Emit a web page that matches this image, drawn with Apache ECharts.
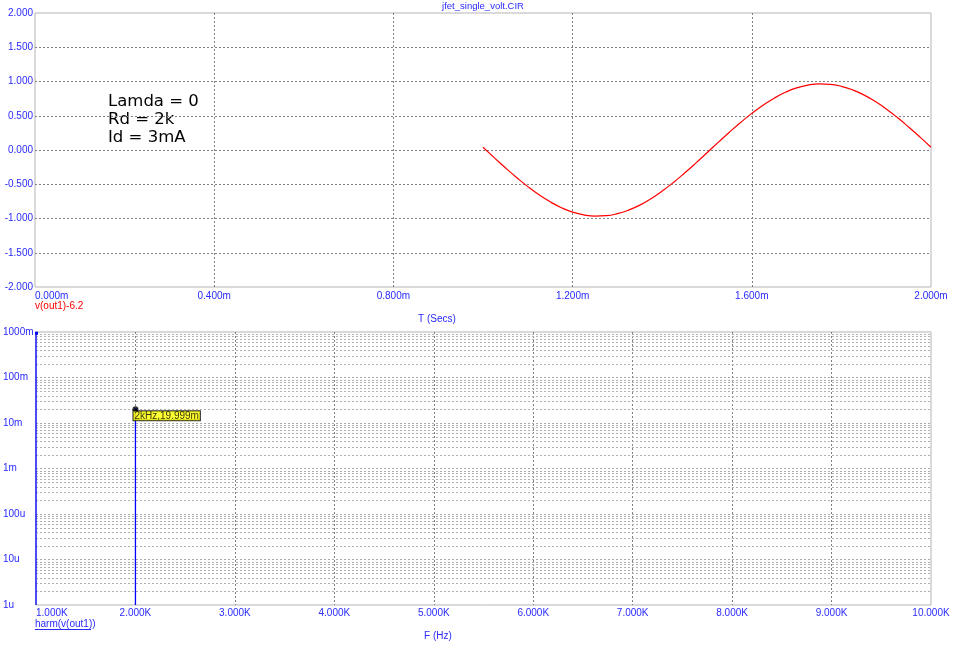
<!DOCTYPE html>
<html>
<head>
<meta charset="utf-8">
<script src="https://cdn.jsdelivr.net/npm/echarts@6/dist/echarts.min.js"></script>
<style>
html,body{margin:0;padding:0;background:#fff;}
#chart{width:957px;height:647px;}
</style>
</head>
<body>
<div id="chart"></div>
<script>
// ---- Data ----
// Transient: time in ms, v(out1)-6.2 in volts
const timeMs = [1.000,1.025,1.050,1.075,1.100,1.125,1.150,1.175,1.200,1.225,1.250,1.275,1.300,1.325,1.350,1.375,1.400,1.425,1.450,1.475,1.500,1.525,1.550,1.575,1.600,1.625,1.650,1.675,1.700,1.725,1.750,1.775,1.800,1.825,1.850,1.875,1.900,1.925,1.950,1.975,2.000];
const vOut = [0.040,-0.111,-0.260,-0.402,-0.535,-0.654,-0.757,-0.842,-0.906,-0.947,-0.965,-0.959,-0.930,-0.878,-0.805,-0.710,-0.599,-0.474,-0.336,-0.191,-0.040,0.111,0.260,0.402,0.535,0.654,0.757,0.842,0.906,0.947,0.965,0.959,0.930,0.878,0.805,0.710,0.599,0.474,0.336,0.191,0.040];
// Harmonics: frequency in Hz, magnitude in volts
const harmFreq = [1000, 2000];
const harmMag = [0.965, 0.019999];
// Cursor annotation
const cursorFreq = 2000;
const cursorMag = 0.019999;
const cursorText = '2kHz,19.999m';
// Tick labels
const logTickLabels = {'-6':'1u','-5':'10u','-4':'100u','-3':'1m','-2':'10m','-1':'100m','0':'1000m'};
const textBlock = ['Lamda = 0', 'Rd = 2k', 'Id = 3mA'];

const BLUE = '#2a2aff';
const FONT = 'Liberation Sans, Arial, sans-serif';

const chart = echarts.init(document.getElementById('chart'), null, {renderer:'canvas'});

// minor log grid values (2..9 x 10^k)
const minorVals = [];
for (let k = -6; k < 0; k++) {
  for (let m = 2; m <= 9; m++) minorVals.push(m * Math.pow(10, k));
}

const option = {
  animation: false,
  backgroundColor: '#ffffff',
  grid: [
    {left:35, top:13, width:896, height:274, show:true, borderColor:'#b4b4b4', borderWidth:1, backgroundColor:'transparent'},
    {left:35, top:332, width:896, height:273, show:true, borderColor:'#b4b4b4', borderWidth:1, backgroundColor:'transparent'}
  ],
  xAxis: [
    {
      gridIndex:0, type:'value', min:0, max:2, interval:0.4,
      axisLine:{show:false}, axisTick:{show:false},
      axisLabel:{color:BLUE, fontFamily:FONT, fontSize:10, margin:4,
        formatter:v=>v.toFixed(3)+'m', alignMinLabel:'left'},
      splitLine:{show:true, showMinLine:false, showMaxLine:false, lineStyle:{color:'#808080', type:[2,2], width:1}}
    },
    {
      gridIndex:1, type:'value', min:1000, max:10000, interval:1000,
      axisLine:{show:false}, axisTick:{show:false},
      axisLabel:{color:BLUE, fontFamily:FONT, fontSize:10, margin:3,
        formatter:v=>(v/1000).toFixed(3)+'K', alignMinLabel:'left'},
      splitLine:{show:true, showMinLine:false, showMaxLine:false, lineStyle:{color:'#808080', type:[2,2], width:1}}
    }
  ],
  yAxis: [
    {
      gridIndex:0, type:'value', min:-2, max:2, interval:0.5,
      axisLine:{show:false}, axisTick:{show:false},
      axisLabel:{color:BLUE, fontFamily:FONT, fontSize:10, margin:2, formatter:v=>v.toFixed(3)},
      splitLine:{show:true, showMinLine:false, showMaxLine:false, lineStyle:{color:'#808080', type:[2,2], width:1}}
    },
    {
      gridIndex:1, type:'log', logBase:10, min:1e-6, max:1,
      axisLine:{show:false}, axisTick:{show:false},
      axisLabel:{color:BLUE, fontFamily:FONT, fontSize:10, margin:33, align:'left',
        formatter:v=>{const e=Math.round(Math.log10(v)); return logTickLabels[String(e)] || '';}},
      splitLine:{show:true, showMinLine:false, showMaxLine:false, lineStyle:{color:'#a8a8a8', type:[2,2], width:1}}
    }
  ],
  series: [
    {
      type:'line', xAxisIndex:0, yAxisIndex:0,
      data: timeMs.map((t,i)=>[t, vOut[i]]),
      showSymbol:false, smooth:true,
      lineStyle:{color:'#ff0000', width:1.2}
    },
    {
      // minor log gridlines for lower plot (2..9 per decade)
      type:'custom', xAxisIndex:1, yAxisIndex:1, silent:true,
      data: minorVals.map(v=>[1000, v]),
      renderItem:(params, api)=>{
        const v = api.value(1);
        const a = api.coord([1000, v]);
        const b = api.coord([10000, v]);
        const y = Math.round(a[1]) + 0.5;
        return {type:'line', shape:{x1:a[0], y1:y, x2:b[0], y2:y},
          style:{stroke:'#b0b0b0', lineWidth:1, lineDash:[2,2]}};
      },
      z:1
    },
    {
      type:'custom', xAxisIndex:1, yAxisIndex:1,
      data: harmFreq.map((f,i)=>[f, harmMag[i]]),
      renderItem:(params, api)=>{
        const f = api.value(0), m = api.value(1);
        const top = api.coord([f, m]);
        const bot = api.coord([f, 1e-6]);
        return {type:'group', children:[
          {type:'line', shape:{x1:top[0], y1:top[1], x2:bot[0], y2:bot[1]}, style:{stroke:'#0000ff', lineWidth:1.3}},
          {type:'rect', shape:{x:top[0]-1, y:top[1]-1, width:3, height:3}, style:{fill:'#0000ff'}}
        ]};
      },
      z:3
    },
    {
      type:'scatter', xAxisIndex:1, yAxisIndex:1,
      data:[[cursorFreq, cursorMag]],
      symbol:'circle', symbolSize:6,
      itemStyle:{color:'#000000'},
      label:{show:true, formatter:cursorText, position:[1,5],
        color:'#000', fontFamily:FONT, fontSize:10, lineHeight:10,
        backgroundColor:'#ffff00', borderColor:'#000', borderWidth:1, padding:[0,1,-1,1]},
      z:4
    }
  ],
  graphic: [
    {type:'text', style:{text:'jfet_single_volt.CIR', x:483, y:1, fill:BLUE, font:'9.5px '+FONT, textAlign:'center'}},
    {type:'text', style:{text:'v(out1)-6.2', x:35, y:301, fill:'#ff0000', font:'10px '+FONT}},
    {type:'text', style:{text:'T (Secs)', x:437, y:314, fill:BLUE, font:'10px '+FONT, textAlign:'center'}},
    {type:'text', style:{text:'harm(v(out1))', x:35, y:619, fill:BLUE, font:'10px '+FONT}},
    {type:'line', shape:{x1:35, y1:629.5, x2:91, y2:629.5}, style:{stroke:BLUE, lineWidth:1}},
    {type:'text', style:{text:'F (Hz)', x:438, y:631, fill:BLUE, font:'10px '+FONT, textAlign:'center'}},
    {type:'text', style:{text:textBlock.join('\n'), x:108, y:93, fill:'#000', font:'16.5px DejaVu Sans, sans-serif', lineHeight:18}}
  ]
};
chart.setOption(option);
</script>
</body>
</html>
